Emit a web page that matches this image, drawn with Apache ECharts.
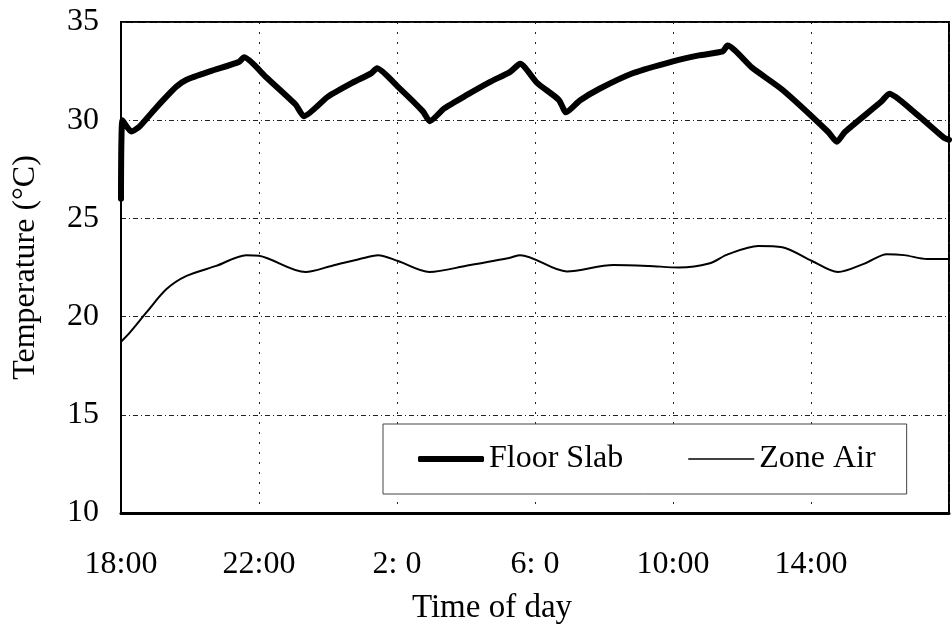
<!DOCTYPE html>
<html>
<head>
<meta charset="utf-8">
<script src="https://cdn.jsdelivr.net/npm/echarts@6/dist/echarts.min.js"></script>
<style>
  html, body { margin: 0; padding: 0; background: #fff; }
  #chart { width: 952px; height: 630px; }
</style>
</head>
<body>
<div id="chart"></div>
<script>
// hours after 18:00
const tickLabels = ['18:00', '22:00', '2: 0', '6: 0', '10:00', '14:00', ''];

const slabHours = [0, 0.04, 0.3, 0.55, 1.0, 1.6, 1.9, 2.6, 3.42, 3.57, 4.2, 5.06, 5.3, 6.0, 6.7, 7.26, 7.42, 8.03, 8.75, 8.95,
  9.37, 10.04, 10.7, 11.28, 11.57, 12.06, 12.69, 12.9, 13.3, 13.87, 14.85, 16.0, 16.75, 17.44, 17.58, 18.3, 19.17, 20.5,
  20.75, 20.98, 22.04, 22.27, 23.0, 23.86, 24];
const slabTemp = [26.0, 30.0, 29.42, 29.7, 30.6, 31.7, 32.06, 32.5, 32.97, 33.2, 32.2, 30.8, 30.2, 31.2, 31.9, 32.4, 32.65, 31.7, 30.45, 29.95,
  30.6, 31.3, 31.95, 32.46, 32.87, 31.9, 31.04, 30.4, 31.0, 31.6, 32.4, 33.0, 33.3, 33.5, 33.8, 32.66, 31.55, 29.4,
  28.9, 29.4, 30.95, 31.35, 30.4, 29.1, 29.0];

const airHours = [0, 0.26, 0.75, 1.32, 1.9, 2.76, 3.63, 4.0, 5.35, 6.1, 7.07, 7.45, 8.03, 8.94, 10.04, 11.28, 11.57, 12.92,
  14.27, 15.3, 16.17, 17.04, 17.6, 18.47, 19.17, 20.03, 20.78, 21.55, 22.2, 22.7, 23.37, 24];
const airTemp = [18.72, 19.2, 20.24, 21.4, 22.07, 22.58, 23.13, 23.1, 22.27, 22.58, 23.0, 23.13, 22.83, 22.27, 22.6, 23.0, 23.13, 22.3,
  22.63, 22.58, 22.5, 22.7, 23.18, 23.6, 23.53, 22.83, 22.27, 22.7, 23.18, 23.13, 22.93, 22.93];

const zip = (xs, ys) => xs.map((x, i) => [x, ys[i]]);

const font = 'Liberation Serif';
const chart = echarts.init(document.getElementById('chart'));

chart.setOption({
  animation: false,
  backgroundColor: '#fff',
  textStyle: { fontFamily: font, color: '#000' },
  grid: {
    left: 121, top: 22, right: -3, bottom: 115,
    show: true, borderColor: '#000', borderWidth: 2
  },
  legend: {
    left: 383, top: 424,
    padding: [19, 31, 19, 35],
    itemWidth: 66, itemHeight: 6, itemGap: 65,
    backgroundColor: '#fff',
    borderColor: '#444', borderWidth: 1, borderRadius: 0,
    textStyle: { fontFamily: font, fontSize: 32, color: '#000' },
    data: [
      { name: 'Floor Slab', icon: 'roundRect', itemStyle: { color: '#000' } },
      // thin 2px bar inside the 6px icon box
      { name: 'Zone Air', icon: 'path://M0,0 M0,6 M0,2.2 H66 V3.8 H0 Z', itemStyle: { color: '#000' } }
    ]
  },
  xAxis: {
    type: 'value',
    min: 0, max: 24, interval: 4,
    name: 'Time of day',
    nameLocation: 'middle',
    nameGap: 79,
    nameTextStyle: { fontFamily: font, fontSize: 33, color: '#000', padding: [0, 86, 0, 0] },
    axisLine: { show: true, lineStyle: { color: '#000', width: 3 } },
    axisTick: { show: false },
    axisLabel: {
      margin: 36, fontFamily: font, fontSize: 32, color: '#000',
      formatter: v => tickLabels[Math.round(v / 4)] || ''
    },
    splitLine: { show: true, lineStyle: { color: '#222', width: 1, type: [2, 8] } }
  },
  yAxis: {
    type: 'value',
    min: 10, max: 35, interval: 5,
    name: 'Temperature (°C)',
    nameLocation: 'middle',
    nameRotate: 90,
    nameGap: 79,
    nameTextStyle: { fontFamily: font, fontSize: 32, color: '#000' },
    axisLine: { show: true, lineStyle: { color: '#000', width: 2 } },
    axisTick: { show: false },
    axisLabel: { margin: 22, fontFamily: font, fontSize: 32, color: '#000' },
    splitLine: { show: true, lineStyle: { color: '#222', width: 1, type: [5, 3, 1, 3] } }
  },
  series: [
    {
      name: 'Floor Slab',
      type: 'line',
      data: zip(slabHours, slabTemp),
      showSymbol: false, symbol: 'none',
      smooth: 0.2,
      lineStyle: { color: '#000', width: 6, cap: 'round', join: 'round' },
      itemStyle: { color: '#000' }
    },
    {
      name: 'Zone Air',
      type: 'line',
      data: zip(airHours, airTemp),
      showSymbol: false, symbol: 'none',
      smooth: 0.3,
      lineStyle: { color: '#000', width: 2 },
      itemStyle: { color: '#000' }
    }
  ]
});
</script>
</body>
</html>
